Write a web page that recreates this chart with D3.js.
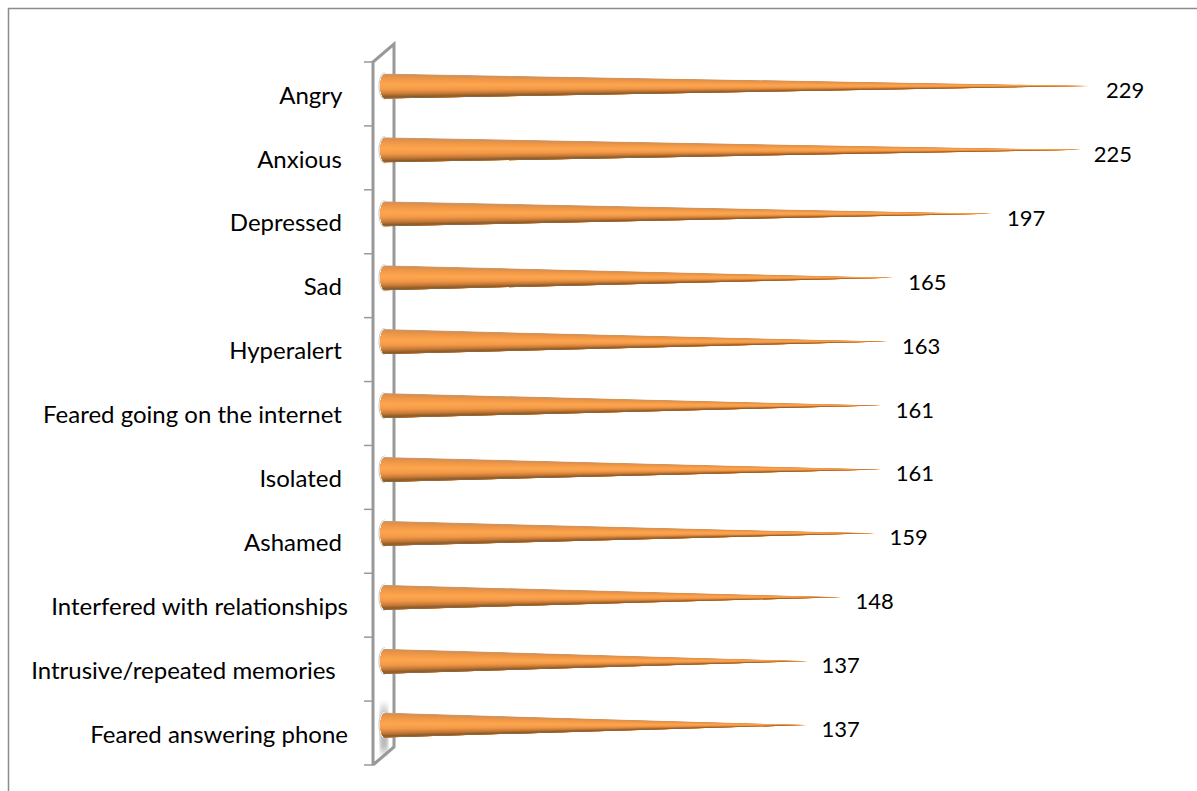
<!DOCTYPE html>
<html>
<head>
<meta charset="utf-8">
<script src="https://cdn.jsdelivr.net/npm/d3@7"></script>
<style>
  html, body { margin: 0; padding: 0; background: #fff; }
  svg { display: block; }
  text { font-family: Lato, "Open Sans", sans-serif; fill: #000; white-space: pre; }
</style>
</head>
<body>
<div id="chart"></div>
<script>
// trailing spaces are in the labels on purpose, they shift the right edge
const categories = [
  'Angry ', 'Anxious ', 'Depressed ', 'Sad ', 'Hyperalert ',
  'Feared going on the internet ', 'Isolated ', 'Ashamed ',
  'Interfered with relationships', 'Intrusive/repeated memories  ',
  'Feared answering phone'
];
const values = [229, 225, 197, 165, 163, 161, 161, 159, 148, 137, 137];

// colour stops across the cone, top edge to bottom edge
const coneStops = [
  [0, '#b9a797'], [0.05, '#d98f4e'], [0.25, '#f49a47'], [0.45, '#fda64f'],
  [0.65, '#f2994a'], [0.82, '#c67a35'], [0.95, '#8c5826'], [1, '#85786c']
];

const width = 1197;
const height = 791;
const MARGIN = { top: 62, left: 373, bottom: 765 };
const depth = { x: 21, y: 18 };
const coneHalf = 12.5;
const stripCount = 26;
const labelSize = 24;
const valueSize = 22;

const svg = d3.select('#chart').append('svg')
  .attr('width', width)
  .attr('height', height);

const defs = svg.append('defs');

const x = d3.scaleLinear().domain([0, 229]).range([385, 1093]);
const y = d3.scaleBand().domain(categories).range([MARGIN.top, MARGIN.bottom]);

const coneColor = d3.scaleLinear()
  .domain(coneStops.map(d => d[0]))
  .range(coneStops.map(d => d[1]))
  .interpolate(d3.interpolateRgb);

// chart frame, only top and left show
svg.append('path')
  .attr('d', `M8.5,${height}V8.5H${width}`)
  .attr('fill', 'none')
  .attr('stroke', '#8c8c8c')
  .attr('stroke-width', 1.5);

// side wall
const wallColor = '#999';
const wall = svg.append('g').attr('fill', 'none').attr('stroke', wallColor);
wall.append('path')
  .attr('stroke-width', 3)
  .attr('d', `M${MARGIN.left},${MARGIN.bottom}V${MARGIN.top}L${MARGIN.left + depth.x},${MARGIN.top - depth.y}V${MARGIN.bottom - depth.y}L${MARGIN.left},${MARGIN.bottom}`);

// shadow on the wall near the floor
const shade = defs.append('linearGradient')
  .attr('id', 'wall-shade')
  .attr('x1', 0).attr('y1', 0).attr('x2', 0).attr('y2', 1);
shade.append('stop').attr('offset', 0).attr('stop-color', '#9c9c9c').attr('stop-opacity', 0);
shade.append('stop').attr('offset', 0.35).attr('stop-color', '#9c9c9c').attr('stop-opacity', 0.85);
shade.append('stop').attr('offset', 0.8).attr('stop-color', '#9c9c9c').attr('stop-opacity', 0.65);
shade.append('stop').attr('offset', 1).attr('stop-color', '#9c9c9c').attr('stop-opacity', 0);
defs.append('filter').attr('id', 'soft').append('feGaussianBlur').attr('stdDeviation', 1.5);
svg.append('rect')
  .attr('x', MARGIN.left + 7)
  .attr('y', y(categories[10]) - 1)
  .attr('width', 8)
  .attr('height', 58)
  .attr('fill', 'url(#wall-shade)')
  .attr('filter', 'url(#soft)');

// ticks sit on the band edges
const edges = categories.map(c => y(c)).concat(MARGIN.bottom);
svg.append('g').selectAll('line')
  .data(edges)
  .join('line')
  .attr('x1', MARGIN.left - 9)
  .attr('x2', MARGIN.left)
  .attr('y1', d => d)
  .attr('y2', d => d)
  .attr('stroke', wallColor)
  .attr('stroke-width', 1.5);

// category labels from the axis, shifted down like the original
const yAxis = d3.axisLeft(y).tickSize(0).tickPadding(0);
const axisG = svg.append('g')
  .attr('transform', 'translate(348,2)')
  .call(yAxis);
axisG.select('.domain').remove();
axisG.selectAll('text')
  .style('font-size', `${labelSize}px`)
  .style('font-family', 'Lato, "Open Sans", sans-serif')
  .attr('fill', '#000');

// cones
const baseCentre = d => y(d.name) + y.bandwidth() / 2 - 8;
const rows = categories.map((name, i) => ({ name, value: values[i], i }));

const cones = svg.append('g').selectAll('g')
  .data(rows)
  .join('g');

cones.each(function(d) {
  const g = d3.select(this);
  const cy = baseCentre(d);
  const x0 = x(0);
  const tip = x(d.value);
  const outline = `M${x0},${cy - coneHalf}L${tip},${cy}L${x0},${cy + coneHalf}A4.5,${coneHalf} 0 0 1 ${x0},${cy - coneHalf}Z`;

  // white rim and hairline round the base
  g.append('path')
    .attr('d', `M${x0},${cy - coneHalf - 0.5}A5.8,${coneHalf + 0.5} 0 0 0 ${x0},${cy + coneHalf + 0.5}`)
    .attr('fill', 'none')
    .attr('stroke', '#c8c8c8')
    .attr('stroke-width', 1.6);
  g.append('path')
    .attr('d', `M${x0},${cy - coneHalf}A4.8,${coneHalf} 0 0 0 ${x0},${cy + coneHalf}`)
    .attr('fill', 'none')
    .attr('stroke', '#fff')
    .attr('stroke-width', 1.4);

  const clipId = `cone-clip-${d.i}`;
  defs.append('clipPath').attr('id', clipId).append('path').attr('d', outline);

  // the shading narrows toward the tip, so build it from strips that converge
  const strips = g.append('g').attr('clip-path', `url(#${clipId})`);
  d3.range(stripCount).forEach(k => {
    const t = k / stripCount;
    const top = cy - coneHalf + 2 * coneHalf * t;
    strips.append('path')
      .attr('d', `M${x0 - 8},${top}L${x0},${top}L${tip},${cy}L${x0},${cy + coneHalf}L${x0 - 8},${cy + coneHalf}Z`)
      .attr('fill', coneColor((k + 0.5) / stripCount));
  });
});

// value labels
svg.append('g').selectAll('text')
  .data(rows)
  .join('text')
  .attr('x', d => x(d.value) + 13)
  .attr('y', d => baseCentre(d) + 12)
  .attr('font-size', valueSize)
  .text(d => d.value);
</script>
</body>
</html>
